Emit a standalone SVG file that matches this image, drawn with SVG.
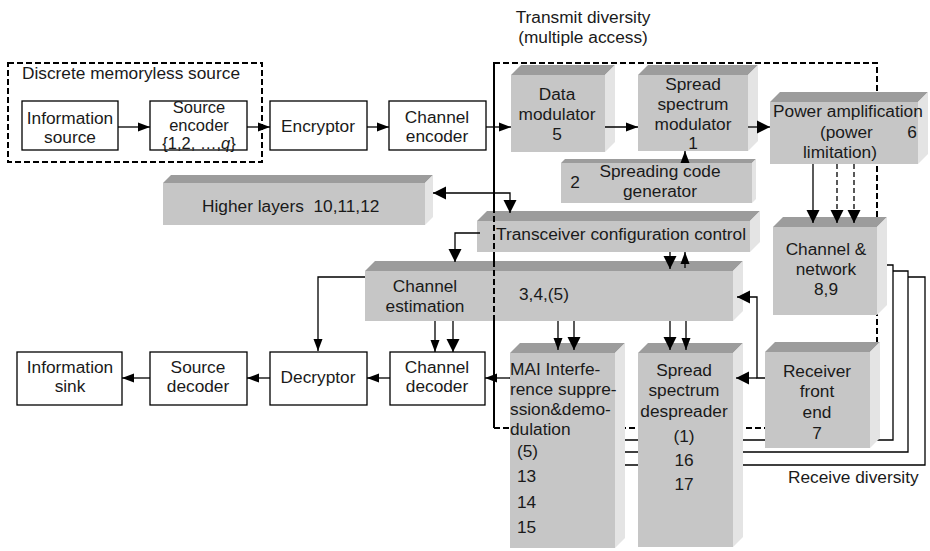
<svg xmlns="http://www.w3.org/2000/svg" width="930" height="551" viewBox="0 0 930 551">
  <style>
    .t { font-family: "Liberation Sans", Arial, Helvetica, sans-serif; font-size: 17.3px; fill: #1a1a1a; }
    .s { font-size: 16.5px; }
    .m { text-anchor: middle; }
    .box { fill: #ffffff; stroke: #000000; stroke-width: 1.3; }
    .fr { fill: #c6c6c6; }
    .tp { fill: #9c9c9c; }
    .sd { fill: #e4e4e4; }
    .ln { fill: none; stroke: #000000; stroke-width: 1.3; }
    .dl { fill: none; stroke: #000000; stroke-width: 1.3; stroke-dasharray: 5 3; }
    .frame { fill: none; stroke: #000000; stroke-width: 2; stroke-dasharray: 6 3; }
  </style>
  <defs>
    <marker id="ah" markerUnits="userSpaceOnUse" markerWidth="13" markerHeight="10" refX="12" refY="5" orient="auto-start-reverse">
      <path d="M0,0.5 L12,5 L0,9.5 z" fill="#000"/>
    </marker>
    <marker id="ahL" markerUnits="userSpaceOnUse" markerWidth="14" markerHeight="14" refX="13" refY="7" orient="auto-start-reverse">
      <path d="M0,0.5 L13,7 L0,13.5 z" fill="#000"/>
    </marker>
  </defs>

  <!-- grouping frames -->
  <g id="frames">
    <rect class="frame" x="8" y="63" width="254" height="99"/>
    <rect class="frame" x="494" y="63" width="383" height="365"/>
  </g>
  <text class="t" x="22" y="79">Discrete memoryless source</text>
  <text class="t m" x="583" y="23">Transmit diversity</text>
  <text class="t m" x="583" y="43">(multiple access)</text>
  <text class="t" x="788" y="483">Receive diversity</text>

  <!-- transmit chain (plain blocks) -->
  <g id="info-source">
    <rect class="box" x="22" y="101" width="96" height="49"/>
    <text class="t m" x="70" y="124">Information</text>
    <text class="t m" x="70" y="143">source</text>
  </g>
  <g id="source-encoder">
    <rect class="box" x="150" y="101" width="97" height="49"/>
    <text class="t s m" x="199" y="113">Source</text>
    <text class="t s m" x="199" y="131">encoder</text>
    <text class="t s m" x="199" y="149">{1,2, …,<tspan font-style="italic">q</tspan>}</text>
  </g>
  <g id="encryptor">
    <rect class="box" x="270" y="101" width="97" height="49"/>
    <text class="t m" x="318" y="132">Encryptor</text>
  </g>
  <g id="channel-encoder">
    <rect class="box" x="389" y="101" width="97" height="49"/>
    <text class="t m" x="437" y="123">Channel</text>
    <text class="t m" x="437" y="142">encoder</text>
  </g>

  <!-- receive chain (plain blocks) -->
  <g id="info-sink">
    <rect class="box" x="17" y="352" width="105" height="53"/>
    <text class="t m" x="70" y="373">Information</text>
    <text class="t m" x="70" y="392">sink</text>
  </g>
  <g id="source-decoder">
    <rect class="box" x="150" y="352" width="97" height="53"/>
    <text class="t m" x="198" y="373">Source</text>
    <text class="t m" x="198" y="392">decoder</text>
  </g>
  <g id="decryptor">
    <rect class="box" x="270" y="352" width="97" height="53"/>
    <text class="t m" x="318" y="383">Decryptor</text>
  </g>
  <g id="channel-decoder">
    <rect class="box" x="390" y="352" width="95" height="53"/>
    <text class="t m" x="437" y="373">Channel</text>
    <text class="t m" x="437" y="392">decoder</text>
  </g>

  <!-- 3D blocks -->
  <g id="data-modulator">
    <polygon class="tp" points="511,75 521,65 615,65 605,75"/>
    <polygon class="sd" points="605,75 615,65 615,142 605,152"/>
    <rect class="fr" x="511" y="75" width="94" height="77"/>
    <text class="t m" x="557" y="100">Data</text>
    <text class="t m" x="557" y="120">modulator</text>
    <text class="t m" x="557" y="140">5</text>
  </g>
  <g id="spread-modulator">
    <polygon class="tp" points="638,75 648,65 758,65 748,75"/>
    <polygon class="sd" points="748,75 758,65 758,141 748,151"/>
    <rect class="fr" x="638" y="75" width="110" height="76"/>
    <text class="t m" x="693" y="90">Spread</text>
    <text class="t m" x="693" y="110">spectrum</text>
    <text class="t m" x="693" y="130">modulator</text>
    <text class="t m" x="693" y="149">1</text>
  </g>
  <g id="power-amplification">
    <polygon class="tp" points="770,102 780,92 928,92 918,102"/>
    <polygon class="sd" points="918,102 928,92 928,154 918,164"/>
    <rect class="fr" x="770" y="102" width="148" height="62"/>
    <text class="t" x="773" y="117">Power amplification</text>
    <text class="t" x="820" y="138">(power</text>
    <text class="t m" x="912" y="138">6</text>
    <text class="t" x="803" y="158">limitation)</text>
  </g>
  <g id="spreading-code-generator">
    <polygon class="tp" points="561,163 565,159 756,159 752,163"/>
    <polygon class="sd" points="752,163 756,159 756,199 752,203"/>
    <rect class="fr" x="561" y="163" width="191" height="40"/>
    <text class="t m" x="575" y="188">2</text>
    <text class="t m" x="660" y="177">Spreading code</text>
    <text class="t m" x="660" y="197">generator</text>
  </g>
  <g id="higher-layers">
    <polygon class="tp" points="163,183 171,175 433,175 425,183"/>
    <polygon class="sd" points="425,183 433,175 433,217 425,225"/>
    <rect class="fr" x="163" y="183" width="262" height="42"/>
    <text class="t" x="202" y="212" xml:space="preserve">Higher layers  10,11,12</text>
  </g>
  <g id="transceiver-control">
    <polygon class="tp" points="477,221 487,211 760,211 750,221"/>
    <polygon class="sd" points="750,221 760,211 760,242 750,252"/>
    <rect class="fr" x="477" y="221" width="273" height="31"/>
    <text class="t" x="496" y="240">Transceiver configuration control</text>
  </g>
  <g id="channel-estimation">
    <polygon class="tp" points="365,271 375,261 743,261 733,271"/>
    <polygon class="sd" points="733,271 743,261 743,311 733,321"/>
    <rect class="fr" x="365" y="271" width="368" height="50"/>
    <text class="t m" x="425" y="292">Channel</text>
    <text class="t m" x="425" y="312">estimation</text>
    <text class="t" x="519" y="300">3,4,(5)</text>
  </g>
  <g id="channel-network">
    <polygon class="tp" points="773,227 783,217 887,217 877,227"/>
    <polygon class="sd" points="877,227 887,217 887,305 877,315"/>
    <rect class="fr" x="773" y="227" width="104" height="88"/>
    <text class="t m" x="826" y="255">Channel &amp;</text>
    <text class="t m" x="826" y="275">network</text>
    <text class="t m" x="826" y="295">8,9</text>
  </g>

  <!-- receive diversity branches (run behind the receiver blocks) -->
  <g id="diversity-branches">
    <path class="ln" d="M887,265 H893 V440 H620"/>
    <path class="ln" d="M893,271 H908 V452 H620"/>
    <path class="ln" d="M908,277 H925 V465 H620"/>
  </g>

  <g id="receiver-front-end">
    <polygon class="tp" points="765,352 775,342 880,342 870,352"/>
    <polygon class="sd" points="870,352 880,342 880,438 870,448"/>
    <rect class="fr" x="765" y="352" width="105" height="96"/>
    <text class="t m" x="817" y="377">Receiver</text>
    <text class="t m" x="817" y="397">front</text>
    <text class="t m" x="817" y="418">end</text>
    <text class="t m" x="817" y="439">7</text>
  </g>
  <g id="mai-suppression">
    <polygon class="tp" points="510,353 520,343 625,343 615,353"/>
    <polygon class="sd" points="615,353 625,343 625,538 615,548"/>
    <rect class="fr" x="510" y="353" width="105" height="195"/>
    <text class="t" x="510" y="375">MAI Interfe-</text>
    <text class="t" x="510" y="395">rence suppre-</text>
    <text class="t" x="510" y="415">ssion&amp;demo-</text>
    <text class="t" x="510" y="435">dulation</text>
    <text class="t" x="517" y="457">(5)</text>
    <text class="t" x="517" y="482">13</text>
    <text class="t" x="517" y="508">14</text>
    <text class="t" x="517" y="533">15</text>
  </g>
  <g id="despreader">
    <polygon class="tp" points="638,353 648,343 743,343 733,353"/>
    <polygon class="sd" points="733,353 743,343 743,537 733,547"/>
    <rect class="fr" x="638" y="353" width="95" height="194"/>
    <text class="t m" x="684" y="376">Spread</text>
    <text class="t m" x="684" y="396">spectrum</text>
    <text class="t m" x="684" y="417">despreader</text>
    <text class="t m" x="684" y="442">(1)</text>
    <text class="t m" x="684" y="466">16</text>
    <text class="t m" x="684" y="490">17</text>
  </g>

  <!-- left edge of the transmit frame is drawn over the control blocks -->
  <line class="frame" x1="494" y1="63" x2="494" y2="428"/>

  <!-- connectors -->
  <g id="connectors">
    <path class="ln" d="M118,127 H150" marker-end="url(#ah)"/>
    <path class="ln" d="M247,127 H270" marker-end="url(#ah)"/>
    <path class="ln" d="M367,127 H389" marker-end="url(#ah)"/>
    <path class="ln" d="M486,127 H511" marker-end="url(#ah)"/>
    <path class="ln" d="M605,127 H638" marker-end="url(#ah)"/>
    <path class="ln" d="M748,127 H770" marker-end="url(#ahL)"/>
    <path class="ln" d="M685,163 V151" marker-end="url(#ah)"/>

    <path class="ln" d="M813,164 V223" marker-end="url(#ahL)"/>
    <path class="dl" d="M837,164 V223" marker-end="url(#ahL)"/>
    <path class="dl" d="M854,164 V223" marker-end="url(#ahL)"/>

    <path class="ln" d="M433,193 H510 V213" marker-start="url(#ahL)" marker-end="url(#ahL)"/>
    <path class="ln" d="M480,233 H455 V262" marker-end="url(#ahL)"/>
    <path class="ln" d="M670,252 V269" marker-end="url(#ahL)"/>
    <path class="ln" d="M685,268 V252" marker-end="url(#ah)"/>

    <path class="ln" d="M365,277 H318 V351" marker-end="url(#ah)"/>
    <path class="ln" d="M435,321 V352" marker-end="url(#ah)"/>
    <path class="ln" d="M453,321 V352" marker-end="url(#ahL)"/>
    <path class="ln" d="M558,321 V350" marker-end="url(#ah)"/>
    <path class="ln" d="M574,321 V350" marker-end="url(#ahL)"/>
    <path class="ln" d="M670,321 V350" marker-end="url(#ahL)"/>
    <path class="ln" d="M686,321 V350" marker-end="url(#ah)"/>

    <path class="ln" d="M765,378 H757 V297 H737" marker-end="url(#ahL)"/>
    <path class="ln" d="M757,378 H736" marker-end="url(#ahL)"/>

    <path class="ln" d="M510,378 H485" marker-end="url(#ah)"/>
    <path class="ln" d="M390,378 H367" marker-end="url(#ah)"/>
    <path class="ln" d="M270,378 H247" marker-end="url(#ah)"/>
    <path class="ln" d="M150,378 H122" marker-end="url(#ah)"/>
  </g>
</svg>
